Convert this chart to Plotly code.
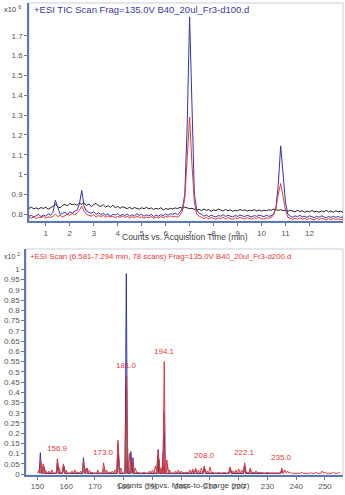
import plotly.graph_objects as go

W, H = 345, 495

# ---------------- TIC chromatogram data (time step 0.1 min from 0.3) ----------------
t_start = 0.3
t_step = 0.1
tic_black = [
    0.830, 0.835, 0.828, 0.832, 0.826, 0.834, 0.829, 0.836, 0.825, 0.831,
    0.840, 0.850, 0.838, 0.832, 0.845, 0.850, 0.842, 0.855, 0.848, 0.852,
    0.845, 0.856, 0.850, 0.858, 0.844, 0.852, 0.838, 0.848, 0.855, 0.842,
    0.840, 0.848, 0.836, 0.843, 0.835, 0.846, 0.832, 0.840, 0.830, 0.838,
    0.832, 0.828, 0.836, 0.826, 0.834, 0.830, 0.825, 0.833, 0.828, 0.835,
    0.827, 0.832, 0.824, 0.830, 0.826, 0.833, 0.822, 0.829, 0.825, 0.830,
    0.826, 0.832, 0.828, 0.835, 0.830, 0.836, 0.833, 0.828, 0.830, 0.826,
    0.820, 0.825, 0.818, 0.826, 0.820, 0.823, 0.815, 0.822, 0.818, 0.826,
    0.820, 0.816, 0.824, 0.818, 0.822, 0.815, 0.820, 0.817, 0.824, 0.819,
    0.822, 0.816, 0.820, 0.818, 0.823, 0.817, 0.821, 0.816, 0.820, 0.818,
    0.822, 0.820, 0.826, 0.824, 0.820, 0.823, 0.818, 0.821, 0.815, 0.820,
    0.816, 0.812, 0.820, 0.814, 0.818, 0.810, 0.816, 0.812, 0.819, 0.813,
    0.815, 0.810, 0.817, 0.812, 0.820, 0.811, 0.816, 0.810, 0.818, 0.812,
    0.815, 0.810,
]
tic_blue = [
    0.790, 0.795, 0.785, 0.792, 0.800, 0.788, 0.796, 0.790, 0.802, 0.795,
    0.810, 0.870, 0.830, 0.800, 0.805, 0.810, 0.798, 0.812, 0.805, 0.815,
    0.820, 0.850, 0.920, 0.840, 0.815, 0.810, 0.805, 0.812, 0.800, 0.808,
    0.798, 0.805, 0.795, 0.802, 0.790, 0.800, 0.796, 0.804, 0.792, 0.799,
    0.794, 0.801, 0.790, 0.798, 0.792, 0.803, 0.795, 0.799, 0.790, 0.797,
    0.792, 0.800, 0.788, 0.796, 0.790, 0.798, 0.793, 0.802, 0.795, 0.803,
    0.800, 0.805, 0.798, 0.810, 0.830, 0.900, 1.250, 1.795, 1.300, 0.900,
    0.820, 0.805, 0.800, 0.790, 0.796, 0.788, 0.795, 0.792, 0.786, 0.794,
    0.790, 0.798, 0.788, 0.795, 0.790, 0.786, 0.794, 0.789, 0.796, 0.790,
    0.788, 0.795, 0.790, 0.786, 0.794, 0.789, 0.796, 0.790, 0.788, 0.795,
    0.790, 0.792, 0.800, 0.830, 0.950, 1.145, 1.000, 0.860, 0.800, 0.790,
    0.785, 0.792, 0.788, 0.795, 0.786, 0.790, 0.784, 0.792, 0.788, 0.783,
    0.790, 0.785, 0.792, 0.786, 0.782, 0.789, 0.784, 0.790, 0.785, 0.788,
    0.784, 0.787,
]
tic_red = [
    0.785, 0.780, 0.788, 0.778, 0.786, 0.782, 0.790, 0.780, 0.787, 0.784,
    0.790, 0.800, 0.788, 0.795, 0.785, 0.792, 0.800, 0.795, 0.803, 0.798,
    0.805, 0.820, 0.840, 0.815, 0.800, 0.795, 0.790, 0.798, 0.786, 0.794,
    0.788, 0.795, 0.784, 0.792, 0.786, 0.790, 0.782, 0.789, 0.785, 0.791,
    0.784, 0.790, 0.780, 0.788, 0.783, 0.790, 0.784, 0.787, 0.780, 0.786,
    0.782, 0.789, 0.779, 0.786, 0.781, 0.788, 0.783, 0.790, 0.785, 0.792,
    0.786, 0.790, 0.785, 0.795, 0.815, 0.880, 1.100, 1.290, 1.050, 0.860,
    0.800, 0.790, 0.785, 0.778, 0.784, 0.777, 0.783, 0.780, 0.775, 0.782,
    0.778, 0.785, 0.776, 0.783, 0.779, 0.774, 0.782, 0.777, 0.784, 0.779,
    0.776, 0.783, 0.778, 0.775, 0.782, 0.779, 0.784, 0.777, 0.776, 0.781,
    0.780, 0.784, 0.795, 0.830, 0.900, 0.955, 0.890, 0.820, 0.785, 0.778,
    0.774, 0.780, 0.776, 0.782, 0.775, 0.779, 0.773, 0.780, 0.776, 0.772,
    0.779, 0.774, 0.780, 0.775, 0.772, 0.778, 0.773, 0.779, 0.774, 0.777,
    0.773, 0.776,
]
tic_x = [round(t_start + i * t_step, 2) for i in range(len(tic_black))]

tic_xticks = [1, 2, 3, 4, 5, 6, 7, 8, 9, 10, 11, 12]
tic_yticks = [0.8, 0.9, 1.0, 1.1, 1.2, 1.3, 1.4, 1.5, 1.6, 1.7]
tic_yticklabels = ["0.8", "0.9", "1", "1.1", "1.2", "1.3", "1.4", "1.5", "1.6", "1.7"]

# ---------------- Mass spectrum data (peak m/z, relative intensity) ----------------
ms_red_mz = [150.5, 151.2, 152.0, 152.8, 154.0, 155.0, 156.9, 157.6, 159.0, 160.0,
             162.0, 163.0, 164.0, 165.0, 166.0, 167.0, 168.0, 169.0, 171.0, 173.0,
             174.0, 175.0, 176.0, 177.0, 178.0, 179.0, 181.0, 182.0, 183.0, 184.0,
             185.0, 187.0, 189.0, 190.0, 191.0, 192.0, 193.0, 193.7, 194.1, 195.0,
             196.0, 198.0, 199.0, 200.0, 201.0, 202.0, 203.0, 204.0, 205.0, 206.0,
             207.0, 208.0, 209.0, 210.0, 211.0, 213.0, 215.0, 217.0, 218.0, 219.0,
             220.0, 221.0, 222.1, 223.0, 224.0, 225.0, 226.0, 227.0, 228.0, 230.0,
             232.0, 235.0, 236.0, 237.0, 238.0, 240.0, 242.0, 245.0, 247.0, 249.0,
             250.0, 252.0, 253.0, 255.0]
ms_red_int = [0.020, 0.060, 0.050, 0.020, 0.015, 0.020, 0.075, 0.030, 0.050, 0.020,
              0.015, 0.020, 0.010, 0.015, 0.060, 0.030, 0.020, 0.010, 0.020, 0.055,
              0.020, 0.010, 0.015, 0.020, 0.165, 0.030, 0.480, 0.100, 0.070, 0.030,
              0.010, 0.010, 0.015, 0.020, 0.040, 0.115, 0.030, 0.110, 0.550, 0.070,
              0.020, 0.015, 0.020, 0.015, 0.010, 0.010, 0.020, 0.025, 0.030, 0.020,
              0.030, 0.040, 0.015, 0.035, 0.010, 0.010, 0.010, 0.035, 0.015, 0.020,
              0.025, 0.020, 0.055, 0.010, 0.030, 0.010, 0.015, 0.010, 0.010, 0.010,
              0.005, 0.030, 0.020, 0.015, 0.010, 0.005, 0.010, 0.008, 0.010, 0.015,
              0.010, 0.005, 0.010, 0.010]

ms_blue_mz = [151.0, 152.2, 157.0, 159.2, 166.0, 167.2, 178.0, 180.9, 182.5, 183.2,
              192.0, 193.8, 194.0, 205.0, 208.0, 217.0, 222.0, 235.0]
ms_blue_int = [0.105, 0.040, 0.060, 0.040, 0.080, 0.030, 0.150, 0.980, 0.110, 0.080,
               0.120, 0.080, 0.300, 0.020, 0.030, 0.030, 0.040, 0.020]

ms_black_mz = [151.5, 157.2, 159.0, 166.3, 173.2, 178.2, 180.8, 181.3, 182.8, 191.8,
               192.3, 193.6, 195.2, 204.0, 208.2, 217.2, 222.2, 224.0, 235.2]
ms_black_int = [0.040, 0.040, 0.035, 0.040, 0.030, 0.100, 0.420, 0.150, 0.050, 0.090,
                0.070, 0.050, 0.040, 0.015, 0.025, 0.025, 0.040, 0.020, 0.020]

label_mz = [156.9, 173.0, 181.0, 194.1, 208.0, 222.1, 235.0]
label_int = [0.075, 0.055, 0.480, 0.550, 0.040, 0.055, 0.030]

ms_xticks = [150, 160, 170, 180, 190, 200, 210, 220, 230, 240, 250]
ms_yticks = [0, 0.05, 0.1, 0.15, 0.2, 0.25, 0.3, 0.35, 0.4, 0.45, 0.5, 0.55,
             0.6, 0.65, 0.7, 0.75, 0.8, 0.85, 0.9, 0.95, 1.0]


def profile(mz, inten, half=0.42, base=0.004):
    xs, ys = [], []
    for m, v in zip(mz, inten):
        xs += [m - half, m, m + half]
        ys += [base, v, base]
    return xs, ys


BLUE = "#3434a8"
RED = "#e0383c"
BLACK = "#222222"
AXIS = "#5b79b4"
TICKFONT = dict(family="Arial, Liberation Sans, sans-serif", size=8, color="#555555")

fig = go.Figure()

fig.add_trace(go.Scatter(x=tic_x, y=tic_black, mode="lines", line=dict(color=BLACK, width=1),
                         xaxis="x", yaxis="y", showlegend=False))
fig.add_trace(go.Scatter(x=tic_x, y=tic_blue, mode="lines", line=dict(color=BLUE, width=1),
                         xaxis="x", yaxis="y", showlegend=False))
fig.add_trace(go.Scatter(x=tic_x, y=tic_red, mode="lines", line=dict(color=RED, width=1),
                         xaxis="x", yaxis="y", showlegend=False))

bx, by = profile(ms_blue_mz, ms_blue_int)
rx, ry = profile(ms_red_mz, ms_red_int)
kx, ky = profile(ms_black_mz, ms_black_int)
fig.add_trace(go.Scatter(x=bx, y=by, mode="lines", line=dict(color=BLUE, width=1),
                         xaxis="x2", yaxis="y2", showlegend=False))
fig.add_trace(go.Scatter(x=kx, y=ky, mode="lines", line=dict(color="#3a2a3a", width=0.7),
                         xaxis="x2", yaxis="y2", showlegend=False))
fig.add_trace(go.Scatter(x=rx, y=ry, mode="lines", line=dict(color=RED, width=1),
                         xaxis="x2", yaxis="y2", showlegend=False))


def px_x(p):
    return p / W


def px_y(p):
    return 1 - p / H


common_axis = dict(showgrid=False, zeroline=False, showline=True, linecolor=AXIS, linewidth=1.5,
                   ticks="outside", ticklen=3, tickcolor="#777777", tickfont=TICKFONT, mirror=False)

fig.update_layout(
    width=W, height=H, margin=dict(l=0, r=0, t=0, b=0),
    paper_bgcolor="white", plot_bgcolor="white",
    xaxis=dict(domain=[px_x(29), px_x(343)], range=[0.3, 13.4], anchor="y",
               tickvals=tic_xticks, **common_axis),
    yaxis=dict(domain=[px_y(223), px_y(3)], range=[0.765, 1.865], anchor="x",
               tickvals=tic_yticks, ticktext=tic_yticklabels, **common_axis),
    xaxis2=dict(domain=[px_x(26), px_x(343)], range=[146, 256.3], anchor="y2",
                tickvals=ms_xticks, **common_axis),
    yaxis2=dict(domain=[px_y(479), px_y(251)], range=[-0.005, 1.10], anchor="x2",
                tickvals=ms_yticks, ticktext=[f"{v:g}" for v in ms_yticks], **common_axis),
)

# frame (top/right light border)
for (x0, x1, y0, y1) in [(29, 343, 3, 223), (26, 343, 251, 479)]:
    fig.add_shape(type="rect", xref="paper", yref="paper",
                  x0=px_x(x0), x1=px_x(x1), y0=px_y(y1), y1=px_y(y0),
                  line=dict(color="#c8d0dc", width=1), layer="below")

ann_font = "Arial, Liberation Sans, sans-serif"
annotations = [
    dict(text="+ESI TIC Scan Frag=135.0V B40_20ul_Fr3-d100.d", x=px_x(32), y=px_y(2),
         xanchor="left", yanchor="top", font=dict(size=9.5, color="#3a3a9c", family=ann_font)),
    dict(text="+ESI Scan (6.581-7.294 min, 78 scans) Frag=135.0V B40_20ul_Fr3-d200.d",
         x=px_x(28), y=px_y(252), xanchor="left", yanchor="top",
         font=dict(size=7.8, color=RED, family=ann_font)),
    dict(text="x10 <sup>6</sup>", x=px_x(2), y=px_y(9), xanchor="left", yanchor="middle",
         font=dict(size=7.5, color="#444444", family=ann_font)),
    dict(text="x10 <sup>2</sup>", x=px_x(2), y=px_y(258), xanchor="left", yanchor="middle",
         font=dict(size=7, color="#444444", family=ann_font)),
    dict(text="Counts vs. Acquisition Time (min)", x=px_x(185), y=px_y(239), xanchor="center",
         yanchor="middle", font=dict(size=8.5, color="#444444", family=ann_font)),
    dict(text="Counts (%) vs. Mass-to-Charge (m/z)", x=px_x(183), y=px_y(489), xanchor="center",
         yanchor="middle", font=dict(size=8, color="#444444", family=ann_font)),
]
for a in annotations:
    a.update(xref="paper", yref="paper", showarrow=False)

for m, v in zip(label_mz, label_int):
    annotations.append(dict(x=m, y=v, xref="x2", yref="y2", text=f"{m:.1f}", showarrow=False,
                            xanchor="center", yanchor="bottom", yshift=4,
                            font=dict(size=8, color=RED, family=ann_font)))

fig.update_layout(annotations=annotations)

fig.write_html("out.html")
